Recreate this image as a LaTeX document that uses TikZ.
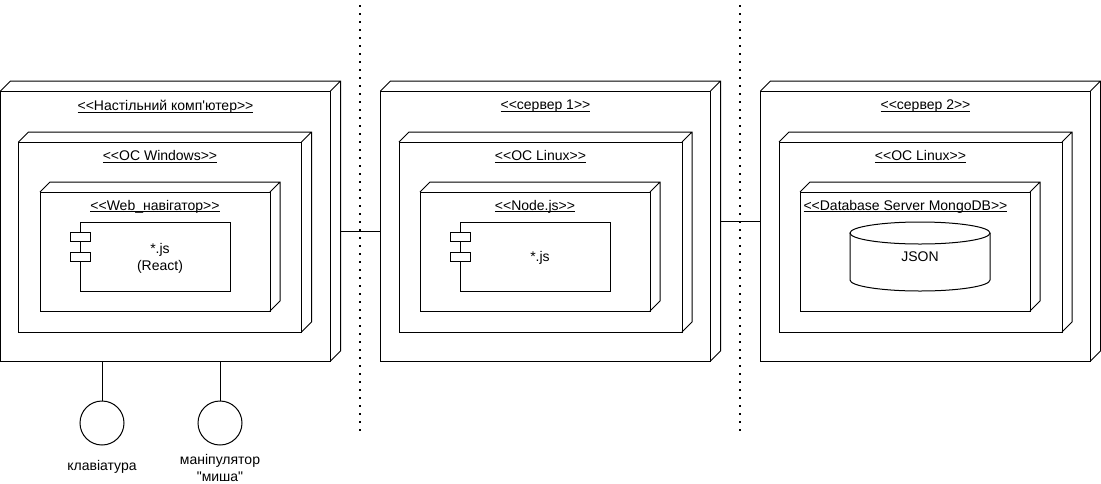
\documentclass[tikz,border=0pt]{standalone}
\usepackage{fontspec}
\newfontfamily\uifont{Liberation Sans}
\usetikzlibrary{calc}
\newcommand\ulx[1]{\leavevmode\setbox0\hbox{#1}\rlap{\rule[-2.2pt]{\wd0}{0.9pt}}\box0}
\newcommand\cubeit[1]{\draw[line join=miter] (#1.north west) -- ++(10,-10) -- ([shift={(10,-10)}]#1.north east) -- ([shift={(10,-10)}]#1.south east) -- (#1.south east) (#1.north east) -- ++(10,-10);}
\begin{document}
\begin{tikzpicture}[x=1pt,y=-1pt, line width=1pt,
  box/.style={draw, rectangle, inner sep=0pt, outer sep=0pt, anchor=north west},
  outerbox/.style={box, minimum width=330pt, minimum height=270pt},
  midbox/.style={box, minimum width=283pt, minimum height=190pt},
  innbox/.style={box, minimum width=230pt, minimum height=119pt},
  compbox/.style={box, minimum width=150pt, minimum height=69pt},
  tab/.style={box, fill=white, minimum width=20pt, minimum height=9pt},
  ttl/.style={inner sep=0pt, font=\uifont\fontsize{14pt}{16pt}\selectfont},
  txt/.style={inner sep=0pt, align=center, font=\uifont\fontsize{14pt}{16.5pt}\selectfont},
  dotline/.style={line width=1.5pt, dash pattern=on 1.5pt off 6.5pt},
  iface/.style={draw, circle, minimum size=44pt, inner sep=0pt, outer sep=0pt}
]
\useasboundingbox (0,0) rectangle (1101,483);

% separators
\coordinate (d1a) at (360,5.25);
\coordinate (d1b) at (360,432);
\coordinate (d2a) at (740,5.25);
\coordinate (d2b) at (740,432);
\draw[dotline] (d1a) -- (d1b);
\draw[dotline] (d2a) -- (d2b);

% ---- desktop computer
\node[outerbox, fill=white] (pc) at (0.5,91) {};
\cubeit{pc}
\node[ttl] (pcT) at ($(pc.north)+(0,15.5)$) {\ulx{<<Настільний комп'ютер>>}};
\node[midbox] (win) at (18.5,142) {};
\cubeit{win}
\node[ttl] (winT) at ($(win.north)+(0,14.5)$) {\ulx{<<OC Windows>>}};
\node[innbox] (web) at (40,192) {};
\cubeit{web}
\node[ttl] (webT) at ($(web.north)+(0,14.5)$) {\ulx{<<Web\_навігатор>>}};
\node[compbox] (c1) at (80,222) {};
\node[tab] (c1a) at (70,232) {};
\node[tab] (c1b) at (70,252) {};
\node[txt] (c1T) at ($(c1.center)+(5,2)$) {*.js\\(React)};

% ---- server 1
\node[outerbox, fill=white] (s1) at (380.5,91) {};
\cubeit{s1}
\node[ttl] (s1T) at ($(s1.north)+(0,15.5)$) {\ulx{<<сервер 1>>}};
\node[midbox] (lin1) at (399,142) {};
\cubeit{lin1}
\node[ttl] (lin1T) at ($(lin1.north)+(0,14.5)$) {\ulx{<<OC Linux>>}};
\node[innbox] (nd) at (420,192) {};
\cubeit{nd}
\node[ttl] (ndT) at ($(nd.north)+(0,14.5)$) {\ulx{<<Node.js>>}};
\node[compbox] (c2) at (460,222) {};
\node[tab] (c2a) at (450,232) {};
\node[tab] (c2b) at (450,252) {};
\node[txt] (c2T) at ($(c2.center)+(5,1)$) {*.js};

% ---- server 2
\node[outerbox, fill=white] (s2) at (760.5,91) {};
\cubeit{s2}
\node[ttl] (s2T) at ($(s2.north)+(0,15.5)$) {\ulx{<<сервер 2>>}};
\node[midbox] (lin2) at (779,142) {};
\cubeit{lin2}
\node[ttl] (lin2T) at ($(lin2.north)+(0,14.5)$) {\ulx{<<OC Linux>>}};
\node[innbox] (db) at (800,192) {};
\cubeit{db}
\node[ttl, anchor=west] (dbT) at (803,206.5) {\ulx{<<Database Server MongoDB>>}};
\node[inner sep=0pt, outer sep=0pt, minimum width=140pt, minimum height=69pt, anchor=north west] (json) at (850,222) {};
\draw ($(json.north)+(0,11)$) ellipse [x radius=70, y radius=11];
\draw ($(json.north west)+(0,11)$) -- ($(json.south west)+(0,-11)$)
  arc[start angle=180, end angle=0, x radius=70, y radius=11]
  -- ($(json.north east)+(0,11)$);
\node[txt] (jsonT) at (920,257) {JSON};

% ---- links
\draw ([shift={(10,5)}]pc.east) -- ([shift={(0,5)}]s1.west);
\draw ([shift={(10,-5)}]s1.east) -- ([shift={(0,-5)}]s2.west);

% ---- interfaces
\node[iface] (kb) at (102,423) {};
\node[iface] (ms) at (220,423) {};
\draw (kb.north) -- (kb.north |- pc.south);
\draw (ms.north) -- (ms.north |- pc.south);
\node[txt] (kbT) at (102,467) {клавіатура};
\node[txt] (msT) at (220,468) {маніпулятор\\"миша"};
\end{tikzpicture}
\end{document}
